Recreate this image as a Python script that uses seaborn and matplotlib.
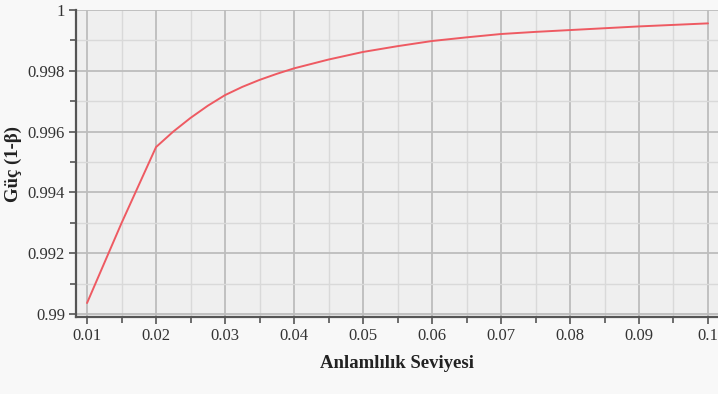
import matplotlib
matplotlib.use("Agg")
import matplotlib.pyplot as plt
from matplotlib.ticker import FixedLocator, FixedFormatter, MultipleLocator
import seaborn as sns
import pandas as pd

# Significance level vs. statistical power
alpha = [0.010, 0.015, 0.020, 0.0225, 0.025, 0.0275, 0.030, 0.0325, 0.035, 0.0375,
         0.040, 0.045, 0.050, 0.055, 0.060, 0.065, 0.070, 0.075, 0.080, 0.085,
         0.090, 0.095, 0.100]
power = [0.99036, 0.99299, 0.99549, 0.99600, 0.99645, 0.99685, 0.99720, 0.99747,
         0.99770, 0.99790, 0.99808, 0.99837, 0.99862, 0.99881, 0.99898, 0.99910,
         0.99921, 0.99928, 0.99934, 0.99940, 0.99946, 0.99951, 0.99956]

x_ticks = [0.01, 0.02, 0.03, 0.04, 0.05, 0.06, 0.07, 0.08, 0.09, 0.1]
x_tick_labels = ["0.01", "0.02", "0.03", "0.04", "0.05", "0.06", "0.07", "0.08", "0.09", "0.1"]
y_ticks = [0.99, 0.992, 0.994, 0.996, 0.998, 1.0]
y_tick_labels = ["0.99", "0.992", "0.994", "0.996", "0.998", "1"]

x_label = "Anlamlılık Seviyesi"
y_label = "Güç (1-β)"

df = pd.DataFrame({"alpha": alpha, "power": power})

sns.set_theme(style="white")
plt.rcParams["font.family"] = ["Liberation Serif", "DejaVu Serif"]

fig = plt.figure(figsize=(7.18, 3.94), dpi=100, facecolor="#f8f8f8")
ax = fig.add_axes([76 / 718, 1 - 317 / 394, 1 - 76 / 718, (317 - 10) / 394])
ax.set_facecolor("#efefef")

sns.lineplot(data=df, x="alpha", y="power", ax=ax, color="#ee5a62",
             linewidth=1.4, zorder=5)

ax.set_xlim(0.0084, 0.10145)
ax.set_ylim(0.9899, 1.0)

ax.xaxis.set_major_locator(FixedLocator(x_ticks))
ax.xaxis.set_major_formatter(FixedFormatter(x_tick_labels))
ax.xaxis.set_minor_locator(MultipleLocator(0.005))
ax.yaxis.set_major_locator(FixedLocator(y_ticks))
ax.yaxis.set_major_formatter(FixedFormatter(y_tick_labels))
ax.yaxis.set_minor_locator(MultipleLocator(0.001))

ax.grid(which="major", color="#bdbdbd", linewidth=1.3, zorder=1)
ax.grid(which="minor", color="#d9d9d9", linewidth=1.0, zorder=1)
ax.set_axisbelow(True)

for side in ("top", "right"):
    ax.spines[side].set_visible(False)
for side in ("left", "bottom"):
    ax.spines[side].set_color("#555555")
    ax.spines[side].set_linewidth(1.6)

ax.tick_params(axis="both", which="both", direction="out", color="#555555",
               width=1.2, labelsize=12, labelcolor="#333333")
ax.tick_params(axis="both", which="major", length=5, pad=3)
ax.tick_params(axis="both", which="minor", length=4)
ax.tick_params(axis="x", which="both", bottom=True)
ax.tick_params(axis="y", which="both", left=True)

ax.set_xlabel(x_label, fontsize=13.5, fontweight="bold", color="#222222", labelpad=8)
ax.set_ylabel(y_label, fontsize=13.5, fontweight="bold", color="#222222", labelpad=4)

fig.savefig("out.png", dpi=100, facecolor=fig.get_facecolor())
